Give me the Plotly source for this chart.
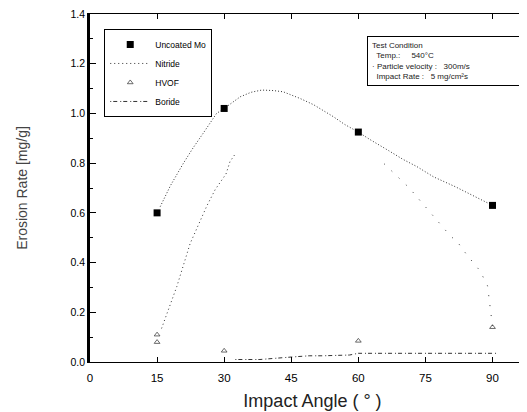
import plotly.graph_objects as go

# ---- data ----
angles = [15, 30, 60, 90]
uncoated = [0.60, 1.02, 0.925, 0.63]

uncoated_fit_x = [15.7, 18.0, 20.9, 23.0, 25.3, 28.3, 30.0, 33.6, 36.0, 38.4, 41.0, 43.2, 47.0,
                  50.0, 54.4, 57.0, 60.0, 62.5, 66.8, 70.0, 73.1, 76.8, 81.7, 84.5, 87.1, 90.0]
uncoated_fit_y = [0.625, 0.71, 0.80, 0.86, 0.92, 1.00, 1.02, 1.067, 1.085, 1.094, 1.092, 1.087, 1.06,
                  1.035, 0.987, 0.955, 0.925, 0.896, 0.85, 0.815, 0.786, 0.745, 0.705, 0.68, 0.654, 0.63]

nitride_left_x = [16.0, 17.7, 19.4, 20.9, 22.4, 24.2, 26.1, 28.0, 30.4, 31.3, 32.4]
nitride_left_y = [0.135, 0.22, 0.303, 0.39, 0.477, 0.55, 0.627, 0.694, 0.756, 0.806, 0.835]
nitride_right_x = [65.8, 71.4, 73.2, 75.3, 80.4, 82.4, 84.3, 87.2, 88.9, 90.0]
nitride_right_y = [0.797, 0.70, 0.662, 0.618, 0.511, 0.477, 0.43, 0.367, 0.306, 0.142]

hvof_x = [15, 15, 30, 60, 90]
hvof_y = [0.11, 0.08, 0.045, 0.085, 0.14]

boride_x = [32.5, 38.0, 45.0, 49.0, 52.0, 55.0, 58.0, 60.0, 63.0, 84.0, 91.0]
boride_y = [0.01, 0.01, 0.02, 0.025, 0.025, 0.028, 0.028, 0.035, 0.035, 0.035, 0.035]

labels = ["Uncoated Mo", "Nitride", "HVOF", "Boride"]
x_ticks = [0, 15, 30, 45, 60, 75, 90]
y_ticks = [0.0, 0.2, 0.4, 0.6, 0.8, 1.0, 1.2, 1.4]

fig = go.Figure()

# uncoated: fitted dotted curve + square markers
fig.add_trace(go.Scatter(x=uncoated_fit_x, y=uncoated_fit_y, mode="lines",
                         line=dict(color="#333", width=1, dash="1px,2px"),
                         legendgroup="u", showlegend=False, hoverinfo="skip"))
fig.add_trace(go.Scatter(x=angles, y=uncoated, mode="lines+markers", name=labels[0],
                         line=dict(color="rgba(0,0,0,0)", width=1),
                         marker=dict(symbol="square", size=7, color="black"),
                         legendgroup="u"))

# nitride: dotted curve
fig.add_trace(go.Scatter(x=nitride_left_x, y=nitride_left_y, mode="lines", name=labels[1],
                         line=dict(color="#333", width=1, dash="1px,3px"),
                         legendgroup="n"))
fig.add_trace(go.Scatter(x=nitride_right_x, y=nitride_right_y, mode="lines",
                         line=dict(color="#333", width=1, dash="1px,9px"),
                         legendgroup="n", showlegend=False))

# HVOF: small open triangles
fig.add_trace(go.Scatter(x=hvof_x, y=hvof_y, mode="markers", name=labels[2],
                         marker=dict(symbol="triangle-up-open", size=5, color="#444",
                                     line=dict(width=0.8))))

# boride: dotted line near zero
fig.add_trace(go.Scatter(x=boride_x, y=boride_y, mode="lines", name=labels[3],
                         line=dict(color="#333", width=1, dash="1px,2px,4px,3px")))

fig.update_layout(
    width=527, height=412,
    margin=dict(l=82, r=0, t=6, b=58),
    paper_bgcolor="white", plot_bgcolor="white",
    font=dict(family="Liberation Sans, Arial, sans-serif", color="black"),
    showlegend=True,
    legend=dict(x=0.032, y=0.957, xanchor="left", yanchor="top",
                bordercolor="black", borderwidth=1, bgcolor="white",
                font=dict(size=8.5), itemwidth=40, tracegroupgap=0),
    xaxis=dict(range=[0, 99.5], tickvals=x_ticks, ticktext=[str(v) for v in x_ticks],
               showline=True, linecolor="black", linewidth=1.2, mirror="ticks",
               ticks="inside", ticklen=5, tickcolor="black", showgrid=False, zeroline=False,
               tickfont=dict(size=11.5), automargin=False, ticklabelstandoff=5,
               ticklabeloverflow="allow",
               title=dict(text="Impact Angle ( ° )", font=dict(size=18, color="#222"), standoff=11)),
    yaxis=dict(range=[0, 1.4], tickvals=y_ticks, ticktext=[f"{v:.1f}" for v in y_ticks],
               showline=True, linecolor="black", linewidth=2.5, mirror="ticks",
               ticks="inside", ticklen=6, tickcolor="black", showgrid=False, zeroline=False,
               tickfont=dict(size=10.5), automargin=False, ticklabeloverflow="allow",
               minor=dict(dtick=0.1, ticks="inside", ticklen=3, tickcolor="black"),
               title=dict(text="Erosion Rate [mg/g]", font=dict(size=14, color="#444"), standoff=40)),
)

fig.add_annotation(
    xref="paper", yref="paper", x=0.622, y=0.937, xanchor="left", yanchor="top",
    align="left", showarrow=False,
    text=("Test Condition<br>"
          "  Temp.:     540°C<br>"
          "· Particle velocity :   300m/s<br>"
          "  Impact Rate :   5 mg/cm²s"),
    font=dict(size=8, color="#222"),
    bordercolor="black", borderwidth=1, borderpad=4, bgcolor="white", width=156,
)

fig.write_html("out.html")
